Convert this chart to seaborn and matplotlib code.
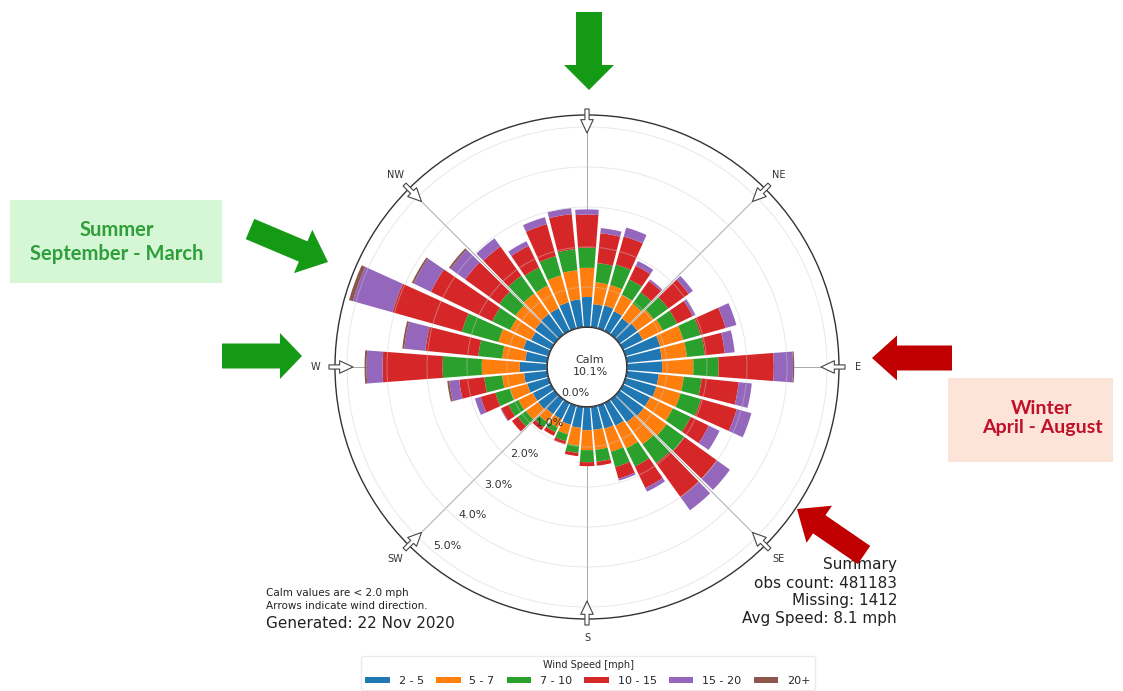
import numpy as np
import matplotlib
matplotlib.use("Agg")
import matplotlib.pyplot as plt
import seaborn as sns
from matplotlib.patches import FancyArrow, FancyBboxPatch

# sector centres (deg clockwise from north), 10 deg sectors
directions = np.arange(0, 360, 10)
speed_labels = ['2 - 5', '5 - 7', '7 - 10', '10 - 15', '15 - 20', '20+']

# frequency (%) per sector for each speed class
freq_2_5 = [0.75, 0.58, 0.60, 0.55, 0.50, 0.55, 0.55, 0.90, 0.88, 0.88, 0.80, 0.80,
            0.75, 0.75, 0.70, 0.63, 0.60, 0.58, 0.58, 0.53, 0.50, 0.45, 0.45, 0.50,
            0.50, 0.55, 0.58, 0.68, 0.55, 0.65, 0.55, 0.60, 0.63, 0.63, 0.68, 0.70]
freq_5_7 = [0.73, 0.55, 0.53, 0.45, 0.45, 0.50, 0.55, 0.60, 0.63, 0.78, 0.63, 0.63,
            0.63, 0.70, 0.68, 0.63, 0.60, 0.50, 0.50, 0.45, 0.25, 0.23, 0.25, 0.38,
            0.40, 0.45, 0.55, 0.95, 0.58, 0.65, 0.58, 0.60, 0.63, 0.63, 0.70, 0.73]
freq_7_10 = [0.50, 0.48, 0.53, 0.43, 0.35, 0.45, 0.40, 0.45, 0.45, 0.63, 0.45, 0.53,
             0.50, 0.55, 0.58, 0.50, 0.40, 0.30, 0.30, 0.18, 0.18, 0.13, 0.15, 0.25,
             0.28, 0.38, 0.45, 0.98, 0.60, 0.95, 0.50, 0.50, 0.55, 0.50, 0.50, 0.53]
freq_10_15 = [0.83, 0.75, 0.73, 0.38, 0.35, 0.63, 0.43, 0.65, 0.50, 1.38, 0.93, 0.93,
              0.50, 1.00, 1.05, 0.60, 0.30, 0.10, 0.10, 0.08, 0.08, 0.10, 0.10, 0.18,
              0.20, 0.38, 0.63, 1.50, 1.33, 1.80, 1.70, 1.05, 0.90, 0.60, 0.83, 0.88]
freq_15_20 = [0.13, 0.13, 0.23, 0.13, 0.05, 0.13, 0.08, 0.28, 0.25, 0.48, 0.33, 0.38,
              0.30, 0.40, 0.40, 0.10, 0.05, 0.00, 0.00, 0.00, 0.00, 0.00, 0.00, 0.00,
              0.02, 0.15, 0.25, 0.40, 0.53, 1.03, 0.48, 0.45, 0.25, 0.13, 0.18, 0.15]
freq_20_plus = [0.00, 0.00, 0.00, 0.00, 0.00, 0.00, 0.00, 0.00, 0.00, 0.03, 0.00, 0.00,
                0.00, 0.00, 0.00, 0.00, 0.00, 0.00, 0.00, 0.00, 0.00, 0.00, 0.00, 0.00,
                0.00, 0.00, 0.05, 0.05, 0.05, 0.10, 0.05, 0.05, 0.00, 0.00, 0.00, 0.00]

radial_ticks = [0, 1, 2, 3, 4, 5]
radial_labels = ['0.0%', '1.0%', '2.0%', '3.0%', '4.0%', '5.0%']
compass_angles = [0, 45, 90, 135, 180, 225, 270, 315]
# the N label is hidden under the call-out arrow in the original
compass_labels = ['', 'NE', 'E', 'SE', 'S', 'SW', 'W', 'NW']

calm_pct = 10.1
notes = ['Calm values are < 2.0 mph', 'Arrows indicate wind direction.']
generated = 'Generated: 22 Nov 2020'
summary = ['Summary', 'obs count: 481183', 'Missing: 1412', 'Avg Speed: 8.1 mph']

W, H = 1123, 691

sns.set_theme(style='white')
plt.rcParams['font.family'] = ['DejaVu Sans']

fig = plt.figure(figsize=(W / 100, H / 100), dpi=100)
fig.patch.set_facecolor('white')

# polar rose
ax = fig.add_axes([0.2983, 0.1042, 0.4488, 0.7294], projection='polar')
ax.set_theta_zero_location('N')
ax.set_theta_direction(-1)
ax.set_rorigin(-1.0)
ax.set_ylim(0, 5.3)
ax.set_axisbelow(True)

palette = sns.color_palette('tab10', 6)
series = [freq_2_5, freq_5_7, freq_7_10, freq_10_15, freq_15_20, freq_20_plus]
theta = np.deg2rad(directions)
bottom = np.zeros(len(directions))
handles = []
for label, values, color in zip(speed_labels, series, palette):
    values = np.asarray(values)
    bars = ax.bar(theta, values, width=np.deg2rad(10) * 0.86, bottom=bottom,
                  color=color, linewidth=0, label=label, zorder=2)
    handles.append(bars)
    bottom += values

ax.set_rgrids(radial_ticks, radial_labels, angle=220, fontsize=8, color='#333333')
ax.set_thetagrids(compass_angles, compass_labels, fontsize=7, color='#333333')
ax.tick_params(axis='x', pad=1)
ax.yaxis.grid(True, color='#cccccc', lw=0.7, alpha=0.45)
ax.xaxis.grid(True, color='#a8a8a8', lw=0.7)
# rings and % labels sit over the bars, spokes under them
ax.yaxis.set_zorder(2.5)
ax.spines['polar'].set_color('#333333')
ax.spines['polar'].set_linewidth(1.0)
ax.spines['inner'].set_visible(False)

# open arrows at compass points
for ang in compass_angles:
    t = np.deg2rad(ang)
    ax.annotate('', xy=(t, 4.85), xytext=(t, 5.45), annotation_clip=False, zorder=4,
                arrowprops=dict(arrowstyle='simple,head_width=0.75,head_length=0.8,tail_width=0.25',
                                fc='white', ec='#444444', lw=0.8, shrinkA=0, shrinkB=0))

# calm in the centre
ax.plot([0.494, 0.494], [0.531, 0.565], transform=ax.transAxes, color='#f2d600',
        lw=5, solid_capstyle='butt', zorder=3)
ax.text(0.506, 0.502, 'Calm\n%.1f%%' % calm_pct, transform=ax.transAxes,
        ha='center', va='center', fontsize=8, color='#333333', zorder=3)

leg = fig.legend(handles=handles, loc='upper center', bbox_to_anchor=(0.5236, 0.0507),
                 ncol=6, title='Wind Speed [mph]', fontsize=8, title_fontsize=7,
                 frameon=True, handlelength=2.2, handleheight=0.55, columnspacing=1.1,
                 borderaxespad=0, edgecolor='#e6e6e6')

fig.text(266 / W, 1 - 593 / H, notes[0], fontsize=7.5, va='center', color='#222222')
fig.text(266 / W, 1 - 606 / H, notes[1], fontsize=7.5, va='center', color='#222222')
fig.text(266 / W, 1 - 623 / H, generated, fontsize=11, va='center', color='#222222')
for i, line in enumerate(summary):
    fig.text(897 / W, 1 - (565 + 18 * i) / H, line, fontsize=11, ha='right',
             va='center', color='#222222')

# overlay in pixel coordinates for the season call-outs
over = fig.add_axes([0, 0, 1, 1], zorder=10)
over.set_xlim(0, W)
over.set_ylim(H, 0)
over.axis('off')
over.patch.set_visible(False)

green = '#149a14'
red = '#c00000'
arrows = [
    (589, 12, 0, 78, 26, 50, 25, green),
    (250, 229, 78, 33, 22, 47, 27, green),
    (222, 356, 80, 0, 25, 46, 22, green),
    (952, 358, -80, 0, 25, 45, 25, red),
    (864, 555, -67, -46, 22, 45, 27, red),
]
for x, y, dx, dy, w, hw, hl, c in arrows:
    over.add_patch(FancyArrow(x, y, dx, dy, width=w, head_width=hw, head_length=hl,
                              length_includes_head=True, color=c, lw=0))

over.add_patch(FancyBboxPatch((10, 200), 212, 83, boxstyle='square,pad=0',
                              fc='#d6f7d6', ec='none'))
over.text(117, 242, 'Summer\nSeptember - March', ha='center', va='center',
          color='#2e9f3a', fontsize=14.5, fontweight='bold', family='Lato', linespacing=1.2)
over.add_patch(FancyBboxPatch((948, 378), 165, 84, boxstyle='square,pad=0',
                              fc='#fde4d8', ec='none'))
over.text(1042, 418, 'Winter\nApril - August', ha='center', va='center',
          color='#c0102a', fontsize=14, fontweight='bold', family='Lato', linespacing=1.2)

fig.savefig('out.png', dpi=100)
